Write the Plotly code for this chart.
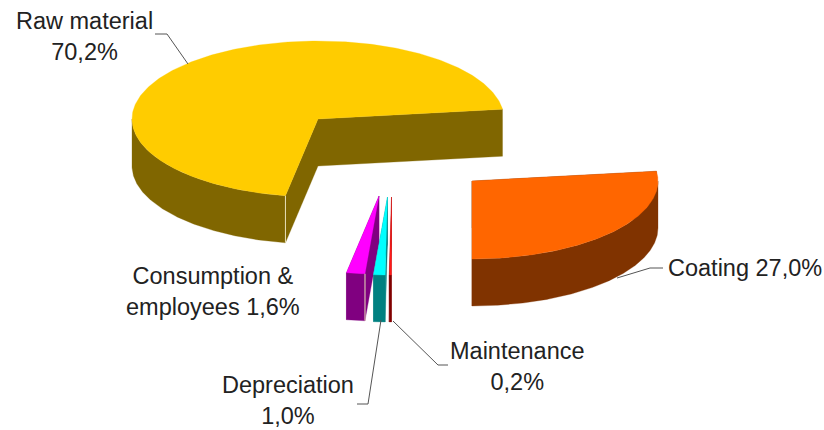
import numpy as np
import plotly.graph_objects as go

# Data, counter-clockwise from the start angle
categories = ["Raw material", "Consumption &<br>employees", "Depreciation", "Maintenance", "Coating"]
shares = [70.2, 1.6, 1.0, 0.2, 27.0]
separators = ["<br>", " ", "<br>", "<br>", " "]

# Style and projection
top_colors = ["#FFCC00", "#FF00FF", "#00FFFF", "#FF1A1A", "#FF6600"]
side_colors = ["#806600", "#800080", "#008080", "#800000", "#803300"]
centers_x = [318, 379, 387.5, 391.5, 472]
centers_y = [119, 196, 197, 197, 181]
label_x = [84, 213, 288, 517, 745]
label_y = [36, 291, 400, 366, 268]
leader_x = [[155, 167, 188], [], [357, 368, 381], [448, 438, 393], [663, 650, 617]]
leader_y = [[34, 34, 64], [], [404, 404, 320], [365, 365, 321], [268, 268, 278]]
RX, RY, DEPTH, START = 186, 78, 47, 7.2

fig = go.Figure()


def poly(xs, ys, color):
    fig.add_trace(go.Scatter(x=list(xs) + [xs[0]], y=list(ys) + [ys[0]], mode="lines", fill="toself",
                             fillcolor=color, line=dict(color=color, width=0.3),
                             hoverinfo="skip", showlegend=False))


def pt(cx, cy, deg):
    r = np.radians(deg)
    return cx + RX * np.cos(r), cy - RY * np.sin(r)


# Slice angles from the shares
angles = []
a = START
for s in shares:
    angles.append((a, a + s * 3.6))
    a += s * 3.6

for i, (a0, a1) in enumerate(angles):
    cx, cy = centers_x[i], centers_y[i]
    # Radial cut faces
    for ang in (a0, a1):
        ex, ey = pt(cx, cy, ang)
        poly([cx, ex, ex, cx], [cy, ey, ey + DEPTH, cy + DEPTH], side_colors[i])
    # Outer wall: only the part of the arc on the front half of the ellipse
    for k in (-1, 0, 1):
        lo, hi = max(a0, 180 + 360 * k), min(a1, 360 + 360 * k)
        if hi > lo:
            th = np.linspace(lo, hi, 160)
            ex, ey = pt(cx, cy, th)
            poly(np.r_[ex, ex[::-1]], np.r_[ey, ey[::-1] + DEPTH], side_colors[i])
    # Top face
    th = np.linspace(a0, a1, 300)
    ex, ey = pt(cx, cy, th)
    poly(np.r_[cx, ex], np.r_[cy, ey], top_colors[i])
    # Pale vertical edge at the end corner of the wider front-facing slices
    if shares[i] > 1 and np.sin(np.radians(a1)) < 0:
        ex, ey = pt(cx, cy, a1)
        fig.add_trace(go.Scatter(x=[ex, ex], y=[ey, ey + DEPTH], mode="lines",
                                 line=dict(color="#E8E0B8", width=1), hoverinfo="skip", showlegend=False))

# Leader lines
for lx, ly in zip(leader_x, leader_y):
    if lx:
        fig.add_trace(go.Scatter(x=lx, y=ly, mode="lines", line=dict(color="#555555", width=1),
                                 hoverinfo="skip", showlegend=False))

# Labels
for name, s, sep, x, y in zip(categories, shares, separators, label_x, label_y):
    txt = f"{name}{sep}{s:.1f}%".replace(".", ",")
    fig.add_annotation(x=x, y=y, xref="x", yref="y", text=txt, showarrow=False, xanchor="center", yanchor="middle",
                       align="center", font=dict(family="Liberation Sans", size=23.5, color="#222222"))

fig.update_layout(
    width=824, height=430, margin=dict(l=0, r=0, t=0, b=0), paper_bgcolor="white", plot_bgcolor="white",
    xaxis=dict(range=[0, 824], visible=False, fixedrange=True),
    yaxis=dict(range=[430, 0], visible=False, fixedrange=True),
)
fig.write_html("out.html", config={"displayModeBar": False},
               post_script="document.body.style.margin='0';document.body.style.overflow='hidden';")
